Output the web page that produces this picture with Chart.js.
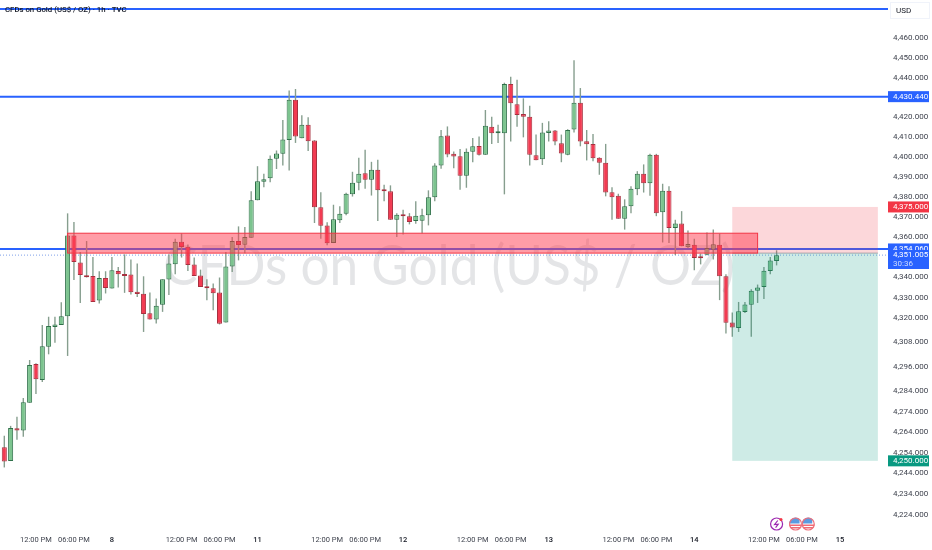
<!DOCTYPE html>
<html lang="en">

<head>
  <meta charset="UTF-8" />
  <title>CFDs on Gold (US$ / OZ) - 1h - TVC</title>
  <script src="https://cdn.jsdelivr.net/npm/chart.js"></script>
  <style>
    html, body { margin: 0; padding: 0; background: #fff; }
    canvas { display: block; }
  </style>
</head>

<body>
  <canvas id="chartGold" width="932" height="550"></canvas>

  <script>
    const opens = [
      4256.6, 4249.9, 4265.9, 4264.7, 4278.3, 4297.2, 4289.4, 4305.7, 4315.5, 4316.4,
      4320.7, 4360.8, 4347.4, 4340.7, 4340.7, 4328.5, 4339.7, 4334.4, 4343.1, 4341.5,
      4341.4, 4332.8, 4331.8, 4322.2, 4319.2, 4326.4, 4338.9, 4346.5, 4357.7, 4355.2,
      4346.3, 4340.9, 4335.4, 4334.6, 4332.5, 4317.7, 4345.3, 4358, 4356.2, 4359.7,
      4378.3, 4387.6, 4389.3, 4399.1, 4401.6, 4408.6, 4428.9, 4409.4, 4416.2, 4408.3,
      4374.8, 4365.8, 4357, 4368.3, 4371.6, 4381.4, 4387.1, 4391.9, 4388.6, 4393.6,
      4383.8, 4382.9, 4368.6, 4371.1, 4370.3, 4368, 4368.1, 4370.9, 4379.9, 4395.8,
      4410.8, 4401.6, 4400.4, 4390.6, 4402.6, 4405.6, 4401.1, 4415.2, 4412, 4412,
      4436.8, 4426.6, 4421.7, 4420.3, 4400.9, 4398.9, 4412.1, 4413.3, 4406.9, 4401.1,
      4413.8, 4427.3, 4407.9, 4406.6, 4399.6, 4397.1, 4382.4, 4380.6, 4369.1, 4375.3,
      4383.9, 4391.6, 4386.9, 4401.1, 4372.3, 4383.1, 4364.5, 4366.7, 4354.9, 4356.2,
      4349.9, 4351.2, 4353.7, 4356.2, 4340.5, 4317.7, 4315, 4322.9, 4326.4, 4333.3,
      4335.2, 4343.1, 4348.1
    ];
    const closes = [
      4249.7, 4266, 4264.7, 4278.5, 4296.7, 4289.8, 4306, 4315.9, 4316.7, 4320.8,
      4360.8, 4347.6, 4341.2, 4340, 4327.8, 4339.7, 4334.7, 4343.5, 4341.5, 4340.7,
      4332.6, 4331.7, 4321.9, 4319.2, 4325.9, 4339, 4346.9, 4357.7, 4355, 4346.1,
      4340.7, 4335.2, 4334.6, 4332.1, 4317, 4345.4, 4358, 4356, 4360, 4378.3,
      4387.8, 4388.9, 4399.1, 4401.8, 4408.8, 4428.9, 4410.3, 4416.2, 4407.9, 4374.9,
      4365.6, 4356.9, 4368.8, 4371.6, 4381.6, 4387.1, 4391.6, 4388.6, 4393.6, 4383.3,
      4382.9, 4368.6, 4371.1, 4370.3, 4367.5, 4370.6, 4370.9, 4379.9, 4395.8, 4410.4,
      4401.3, 4400.3, 4390.6, 4402.6, 4405.4, 4401.1, 4415.7, 4412, 4412.3, 4436.8,
      4427.1, 4421.2, 4420.3, 4401.1, 4398.4, 4412.3, 4413.3, 4407.8, 4401.8, 4413.6,
      4427.3, 4407.8, 4406.4, 4399.4, 4397.1, 4382.2, 4379.9, 4369.1, 4375.3, 4384.1,
      4391.6, 4386.9, 4401.1, 4371.9, 4383.1, 4364.5, 4366.7, 4355.4, 4356.5, 4349.6,
      4349.5, 4354.5, 4356.4, 4340.5, 4317.5, 4315.2, 4323.2, 4326.5, 4333.3, 4334.9,
      4343.3, 4348.3, 4351
    ];
    const highs = [
      4262.2, 4267, 4271.4, 4280.6, 4299.2, 4297.6, 4316.4, 4320.5, 4320.5, 4327.7,
      4371.8, 4367.5, 4352.5, 4358, 4350.1, 4343, 4343, 4350.1, 4345.1, 4351.4,
      4348.8, 4346.8, 4340.5, 4332.5, 4329.5, 4339, 4351.3, 4359.2, 4361.8, 4356.3,
      4349.8, 4343.8, 4339, 4336.9, 4339.9, 4352.5, 4360, 4365.3, 4365, 4382.9,
      4395.4, 4391.6, 4400.8, 4403.3, 4418.7, 4433.5, 4434.3, 4421.1, 4420, 4408.5,
      4382.4, 4367.3, 4376.1, 4375.4, 4382.1, 4392.6, 4399.6, 4403.6, 4397.6, 4398.6,
      4386.1, 4385.8, 4371.9, 4373.6, 4371.9, 4377.9, 4374.1, 4383.3, 4396.9, 4413.6,
      4415.4, 4402.8, 4404.1, 4404.3, 4409.6, 4410.3, 4423.7, 4420.3, 4416.3, 4437.5,
      4440.5, 4439, 4429.6, 4425.9, 4411.3, 4417.2, 4418, 4413.6, 4411.3, 4414,
      4448.9, 4434.8, 4413.6, 4411.6, 4399.9, 4406.6, 4384.9, 4381.6, 4378.8, 4385.3,
      4392.9, 4396.3, 4401.6, 4401.6, 4386.6, 4385.3, 4368.6, 4372.9, 4363.3, 4359.2,
      4351.8, 4362.2, 4363.7, 4361.7, 4341.5, 4322.6, 4327.8, 4327.8, 4334.1, 4336.4,
      4345.1, 4350.1, 4353.4
    ];
    const lows = [
      4246.8, 4249.9, 4260.2, 4261.7, 4278.3, 4282.6, 4288.4, 4302, 4307.7, 4316.4,
      4301.2, 4338.6, 4327.3, 4339.9, 4327.8, 4327, 4332, 4334.4, 4334.9, 4332.3,
      4331.5, 4330.3, 4313, 4319.2, 4317.2, 4322.9, 4331.2, 4341.5, 4349.8, 4343.1,
      4340.7, 4335.2, 4328.7, 4323.7, 4316.7, 4317.7, 4342.6, 4348.4, 4351.9, 4359.7,
      4378.3, 4384.9, 4387.4, 4394, 4395.8, 4393.3, 4407.1, 4409.4, 4403, 4367,
      4359.2, 4355.9, 4357, 4367, 4370.9, 4380.2, 4383.3, 4384.1, 4380.7, 4368,
      4377.9, 4368.6, 4360, 4361.2, 4366.3, 4366.6, 4361.7, 4365.8, 4377.9, 4394.1,
      4399.9, 4394.4, 4383.6, 4384.6, 4397.4, 4400.8, 4401.1, 4406.6, 4407.1, 4381.3,
      4407.8, 4415.3, 4409.9, 4395.8, 4398.4, 4396, 4407.8, 4405.9, 4397.4, 4400.9,
      4412.4, 4405.4, 4398.3, 4397.9, 4391.1, 4380.3, 4368.6, 4369.1, 4363.7, 4371.9,
      4380.9, 4382.2, 4380.6, 4370.4, 4357.3, 4357, 4351, 4355.4, 4354.5, 4343.5,
      4346.4, 4350.9, 4348.8, 4328.7, 4312.3, 4310.6, 4313, 4322.4, 4310.6, 4327.3,
      4329.3, 4341.5, 4345.9
    ];

    const yTicks = [4460, 4450, 4440, 4420, 4410, 4400, 4390, 4380, 4370, 4360, 4340, 4330,
      4320, 4308, 4296, 4284, 4274, 4264, 4254, 4244, 4234, 4224];
    const xTickBars = [5, 11, 17, 28, 34, 40, 51, 57, 63, 74, 80, 86, 97, 103, 109, 120, 126, 132];
    const xTickLabels = ['12:00 PM', '06:00 PM', '8', '12:00 PM', '06:00 PM', '11', '12:00 PM', '06:00 PM', '12',
      '12:00 PM', '06:00 PM', '13', '12:00 PM', '06:00 PM', '14', '12:00 PM', '06:00 PM', '15'];

    const hLines = [4475, 4430.44, 4354.06];
    const lastPrice = 4351.005;
    const zoneTop = 4361.9;
    const zoneBottom = 4352;
    const zoneBars = [10, 119];
    const tradeEntry = 4352;
    const tradeStop = 4375;
    const tradeTarget = 4250;
    const tradeBars = [115, 138];
    const eventBars = [122, 125, 127];

    const barFirst = -0.68;
    const barLast = 139.6;
    const yMax = 4479.6;
    const yMin = 4218.5;

    const BLUE = '#2962ff';
    const FONT = 'Roboto, "Liberation Sans", sans-serif';
    const isUp = i => closes[i] >= opens[i];
    const isDay = i => (xTickLabels[i] || '').length < 3;
    const fmt = v => v.toLocaleString('en-US', { minimumFractionDigits: 3, maximumFractionDigits: 3 });

    const bodies = opens.map((o, i) => ({ x: i, y: [o, closes[i]] }));
    const wicks = opens.map((o, i) => ({ x: i, y: [lows[i], highs[i]] }));
    const flatLine = v => [{ x: barFirst, y: v }, { x: barLast, y: v }];

    function noPadding(axis) {
      axis.paddingLeft = axis.paddingRight = axis.paddingTop = axis.paddingBottom = 0;
    }

    function priceTag(ctx, y, text, bg, h) {
      ctx.fillStyle = bg;
      ctx.fillRect(888, y - h / 2, 41, h);
      ctx.fillStyle = '#fff';
      ctx.font = '8px ' + FONT;
      ctx.textAlign = 'left';
      ctx.textBaseline = 'middle';
      ctx.fillText(text, 893, y);
    }

    function usFlag(ctx, cx, cy) {
      ctx.save();
      ctx.beginPath();
      ctx.arc(cx, cy, 6.5, 0, Math.PI * 2);
      ctx.fillStyle = '#fff';
      ctx.fill();
      ctx.clip();
      ctx.fillStyle = '#f06a75';
      ctx.fillRect(cx - 7, cy + 0.5, 14, 1.5);
      ctx.fillRect(cx - 7, cy + 3, 14, 1.5);
      ctx.fillStyle = '#5b9be0';
      ctx.fillRect(cx - 7, cy - 7, 11, 6.5);
      ctx.restore();
      ctx.beginPath();
      ctx.arc(cx, cy, 6, 0, Math.PI * 2);
      ctx.strokeStyle = '#ef6f7a';
      ctx.lineWidth = 1.2;
      ctx.stroke();
    }

    function boltIcon(ctx, cx, cy) {
      ctx.beginPath();
      ctx.arc(cx, cy, 6, 0, Math.PI * 2);
      ctx.strokeStyle = '#9c27b0';
      ctx.lineWidth = 1.2;
      ctx.stroke();
      ctx.beginPath();
      ctx.moveTo(cx + 1.2, cy - 3.5);
      ctx.lineTo(cx - 2, cy + 0.5);
      ctx.lineTo(cx + 1.6, cy + 0.2);
      ctx.lineTo(cx - 1, cy + 3.6);
      ctx.stroke();
      ctx.beginPath();
      ctx.arc(cx + 4.4, cy - 4.6, 1.5, 0, Math.PI * 2);
      ctx.fillStyle = '#f23645';
      ctx.fill();
    }

    const overlays = {
      id: 'overlays',
      beforeDatasetsDraw(chart) {
        const ctx = chart.ctx;
        ctx.save();
        ctx.fillStyle = 'rgba(120,123,134,0.2)';
        ctx.font = '57px Lato, ' + FONT;
        ctx.textAlign = 'center';
        ctx.textBaseline = 'alphabetic';
        ctx.translate(449, 285);
        ctx.scale(0.9, 1);
        ctx.fillText('CFDs on Gold (US$ / OZ)', 0, 0);
        ctx.restore();
      },
      afterDatasetsDraw(chart) {
        const ctx = chart.ctx;
        const x = chart.scales.x;
        const y = chart.scales.y;
        const px = v => x.getPixelForValue(v);
        const py = v => y.getPixelForValue(v);
        ctx.save();
        ctx.fillStyle = 'rgba(242,54,69,0.2)';
        ctx.fillRect(px(tradeBars[0]), py(tradeStop), px(tradeBars[1]) - px(tradeBars[0]), py(tradeEntry) - py(tradeStop));
        ctx.fillStyle = 'rgba(8,153,129,0.2)';
        ctx.fillRect(px(tradeBars[0]), py(tradeEntry), px(tradeBars[1]) - px(tradeBars[0]), py(tradeTarget) - py(tradeEntry));
        ctx.strokeStyle = 'rgba(120,123,134,0.6)';
        ctx.lineWidth = 1;
        ctx.beginPath();
        ctx.moveTo(px(tradeBars[0]), py(tradeEntry));
        ctx.lineTo(px(tradeBars[1]), py(tradeEntry));
        ctx.stroke();
        ctx.fillStyle = 'rgba(255,60,80,0.5)';
        ctx.strokeStyle = '#f23645';
        ctx.fillRect(px(zoneBars[0]), py(zoneTop), px(zoneBars[1]) - px(zoneBars[0]), py(zoneBottom) - py(zoneTop));
        ctx.strokeRect(px(zoneBars[0]), py(zoneTop), px(zoneBars[1]) - px(zoneBars[0]), py(zoneBottom) - py(zoneTop));
        ctx.restore();
      },
      afterDraw(chart) {
        const ctx = chart.ctx;
        const x = chart.scales.x;
        const y = chart.scales.y;
        ctx.save();
        // symbol title on the top line
        ctx.fillStyle = '#131722';
        ctx.font = '500 7.8px ' + FONT;
        ctx.textAlign = 'left';
        ctx.textBaseline = 'middle';
        ctx.fillText('CFDs on Gold (US$ / OZ) · 1h · TVC', 5, 10);
        // currency box
        ctx.strokeStyle = '#f0f3fa';
        ctx.strokeRect(890.5, 2.5, 39, 16);
        ctx.fillStyle = '#131722';
        ctx.font = '8px ' + FONT;
        ctx.fillText('USD', 896, 11);
        // price tags
        priceTag(ctx, y.getPixelForValue(hLines[1]), fmt(hLines[1]), BLUE, 11);
        priceTag(ctx, y.getPixelForValue(tradeStop), fmt(tradeStop), '#f23645', 11);
        priceTag(ctx, y.getPixelForValue(tradeTarget), fmt(tradeTarget), '#089981', 11);
        priceTag(ctx, y.getPixelForValue(hLines[2]), fmt(hLines[2]), BLUE, 11);
        ctx.fillStyle = BLUE;
        ctx.fillRect(888, 250, 41, 19);
        ctx.fillStyle = '#fff';
        ctx.fillText(fmt(lastPrice), 893, 255);
        ctx.fillStyle = '#cfdcff';
        ctx.fillText('30:36', 893, 264);
        // event icons under the last bars
        boltIcon(ctx, x.getPixelForValue(eventBars[0]), 524);
        usFlag(ctx, x.getPixelForValue(eventBars[1]), 524);
        usFlag(ctx, x.getPixelForValue(eventBars[2]), 524);
        ctx.restore();
      }
    };

    new Chart(document.getElementById('chartGold'), {
      type: 'bar',
      data: {
        datasets: [
          {
            data: bodies,
            order: 1,
            grouped: false,
            categoryPercentage: 1,
            barPercentage: 0.8,
            minBarLength: 2,
            borderWidth: 1,
            borderSkipped: false,
            backgroundColor: opens.map((o, i) => isUp(i) ? '#7cc48f' : '#f23b52'),
            borderColor: opens.map((o, i) => isUp(i) ? '#2f7049' : '#a8303f')
          },
          {
            data: wicks,
            order: 2,
            grouped: false,
            categoryPercentage: 1,
            barPercentage: 0.22,
            backgroundColor: '#869e8e'
          },
          ...hLines.map(v => ({
            type: 'line',
            data: flatLine(v),
            order: 3,
            borderColor: BLUE,
            borderWidth: 2,
            pointRadius: 0
          })),
          {
            type: 'line',
            data: flatLine(lastPrice),
            order: 4,
            borderColor: '#7f9fe8',
            borderWidth: 1,
            borderDash: [1, 2],
            pointRadius: 0
          }
        ]
      },
      options: {
        responsive: false,
        animation: false,
        devicePixelRatio: 1,
        layout: { padding: 0 },
        plugins: {
          legend: { display: false },
          tooltip: { enabled: false }
        },
        scales: {
          x: {
            type: 'linear',
            offset: false,
            min: barFirst,
            max: barLast,
            grid: { display: false, drawTicks: false, offset: false },
            border: { display: false },
            afterBuildTicks: axis => { axis.ticks = xTickBars.map(v => ({ value: v })); },
            afterFit: axis => { axis.height = 24; noPadding(axis); },
            ticks: {
              autoSkip: false,
              maxRotation: 0,
              padding: 10,
              color: ctx => isDay(ctx.index) ? '#131722' : '#3f434e',
              font: ctx => ({ family: FONT, size: 7.5, weight: isDay(ctx.index) ? '500' : '400' }),
              callback: (v, i) => xTickLabels[i]
            }
          },
          y: {
            type: 'logarithmic',
            position: 'right',
            min: yMin,
            max: yMax,
            grid: { display: false, drawTicks: false },
            border: { display: false },
            afterBuildTicks: axis => { axis.ticks = yTicks.map(v => ({ value: v })); },
            afterFit: axis => { axis.width = 44; noPadding(axis); },
            ticks: {
              autoSkip: false,
              padding: 5,
              color: '#3f434e',
              font: { family: FONT, size: 8 },
              callback: v => fmt(v)
            }
          }
        }
      },
      plugins: [overlays]
    });
  </script>
</body>

</html>
